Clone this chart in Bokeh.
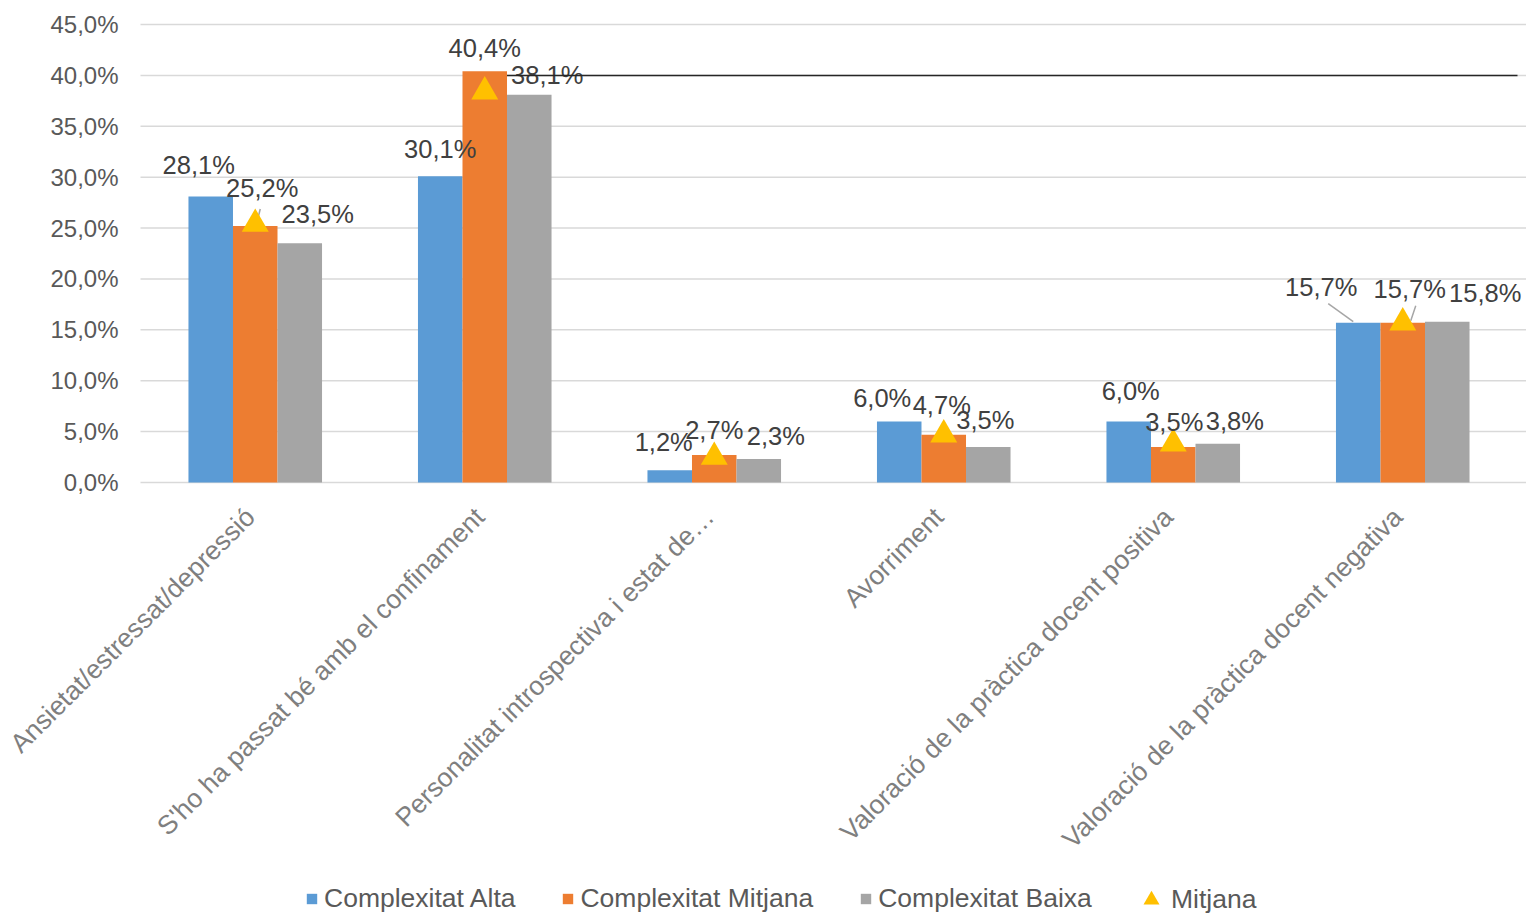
import math
from bokeh.plotting import figure
from bokeh.models import ColumnDataSource, Legend, LegendItem, Range1d
from bokeh.core.properties import value
from bokeh.embed import file_html
from bokeh.resources import INLINE

# ---------------- data ----------------
categories = [
    "Ansietat/estressat/depressió",
    "S'ho ha passat bé amb el confinament",
    "Personalitat introspectiva i estat de…",
    "Avorriment",
    "Valoració de la pràctica docent positiva",
    "Valoració de la pràctica docent negativa",
]
complexitat_alta = [28.1, 30.1, 1.2, 6.0, 6.0, 15.7]
complexitat_mitjana = [25.2, 40.4, 2.7, 4.7, 3.5, 15.7]
complexitat_baixa = [23.5, 38.1, 2.3, 3.5, 3.8, 15.8]
mitjana = [25.4, 38.4, 2.5, 4.7, 3.8, 15.7]
series_names = ["Complexitat Alta", "Complexitat Mitjana", "Complexitat Baixa", "Mitjana"]
y_ticks = [0, 5, 10, 15, 20, 25, 30, 35, 40, 45]

# ---------------- layout / style ----------------
FONT = "Liberation Sans"
colors = ["#5B9BD5", "#ED7D31", "#A5A5A5"]
tri_color = "#FFC000"
bar_w = 0.194
W, H = 1526, 914
plot_left, plot_top, plot_h = 140, 24, 458   # pixel placement of the 0..45 % band
px_x = 229.5
px_y = plot_h / 45.0
x_start = -0.5 - plot_left / px_x
x_end = x_start + W / px_x
y_end = 45 + plot_top / px_y
y_start = y_end - H / px_y

# label offsets (pixels) per series per group, relative to bar top-centre
label_dx = [[-12, 0, -6, -17, 2, -37], [7, 0, 0, -2, 1, 7], [18, 18, 17, -3, 17, 38]]
label_dy = [[-32, -27, -28, -23, -30, -36], [-38, -23, -25, -30, -25, -34], [-29, -20, -23, -27, -23, -29]]

p = figure(width=W, height=H, x_range=Range1d(x_start, x_end), y_range=Range1d(y_start, y_end),
           output_backend="svg", toolbar_location=None, x_axis_location=None, y_axis_location=None,
           min_border_left=0, min_border_right=0, min_border_top=0, min_border_bottom=0)
p.outline_line_color = None
p.background_fill_color = "white"
p.border_fill_color = "white"
p.xgrid.grid_line_color = None
p.ygrid.grid_line_color = None

# value axis: gridlines + tick labels
n_t = len(y_ticks)
p.segment(x0=[-0.5] * n_t, y0=y_ticks, x1=[x_end] * n_t, y1=y_ticks,
          line_color="#D9D9D9", line_width=1.5)
tick_src = ColumnDataSource(dict(x=[-0.5] * n_t, y=y_ticks,
                                 t=[f"{t:.1f}%".replace(".", ",") for t in y_ticks]))
p.text(x="x", y="y", text="t", source=tick_src, x_offset=-22, text_align="right",
       text_baseline="middle", text_font=value(FONT), text_font_size="24px", text_color="#595959")

# category labels, rotated, ending just under each category position
cat_src = ColumnDataSource(dict(x=list(range(len(categories))), y=[0] * len(categories), t=categories))
p.text(x="x", y="y", text="t", source=cat_src, angle=math.pi / 4,
       x_offset=-5, y_offset=30, text_align="right", text_baseline="middle",
       text_font=value(FONT), text_font_size="26.5px", text_color="#7F7F7F")

bar_items = []
all_series = [complexitat_alta, complexitat_mitjana, complexitat_baixa]
label_sources = []
for s, vals in enumerate(all_series):
    xs = [i + (s - 1) * bar_w for i in range(len(categories))]
    src = ColumnDataSource(dict(x=xs, top=vals))
    r = p.vbar(x="x", top="top", width=bar_w, bottom=0, source=src,
               fill_color=colors[s], line_color=None)
    bar_items.append(LegendItem(label=series_names[s], renderers=[r]))
    label_sources.append(ColumnDataSource(dict(
        x=xs, y=vals,
        t=[f"{v:.1f}%".replace(".", ",") for v in vals],
        dx=label_dx[s], dy=label_dy[s])))

# leader lines (series, group, start px offset, end px offset)
leaders = [(1, 0, (5, -17), (1, -1)), (0, 5, (-30, -19), (-5, -1)), (1, 5, (13, -17), (8, -2))]
lx0, ly0, lx1, ly1 = [], [], [], []
for s, g, a, b in leaders:
    bx = g + (s - 1) * bar_w
    by = all_series[s][g]
    lx0.append(bx + a[0] / px_x); ly0.append(by - a[1] / px_y)
    lx1.append(bx + b[0] / px_x); ly1.append(by - b[1] / px_y)
p.segment(x0=lx0, y0=ly0, x1=lx1, y1=ly1, line_color="#A6A6A6", line_width=1.5)

tri = p.scatter(x=list(range(len(categories))), y=mitjana, marker="triangle", size=27,
                fill_color=tri_color, line_color=None)

for lsrc in label_sources:
    p.text(x="x", y="y", text="t", x_offset="dx", y_offset="dy", source=lsrc,
           text_align="center", text_baseline="middle",
           text_font=value(FONT), text_font_size="25.5px", text_color="#404040")

# stray dark line at 40 %
p.segment(x0=[1 + bar_w / 2], y0=[40], x1=[5.5], y1=[40], line_color="#262626", line_width=1.5)

common = dict(orientation="horizontal", label_text_font=FONT, label_text_font_size="26.5px",
              label_text_color="#595959", border_line_color=None, background_fill_alpha=0,
              padding=0, margin=0)
legend_a = Legend(items=bar_items, location=(305, 0), glyph_width=13, glyph_height=13,
                  spacing=46, label_standoff=6, **common)
legend_b = Legend(items=[LegendItem(label=series_names[3], renderers=[tri])], location=(1131, -8),
                  glyph_width=40, glyph_height=45, label_standoff=0, **common)
p.add_layout(legend_a, "center")
p.add_layout(legend_b, "center")

open("out.html", "w").write(file_html(p, INLINE))
